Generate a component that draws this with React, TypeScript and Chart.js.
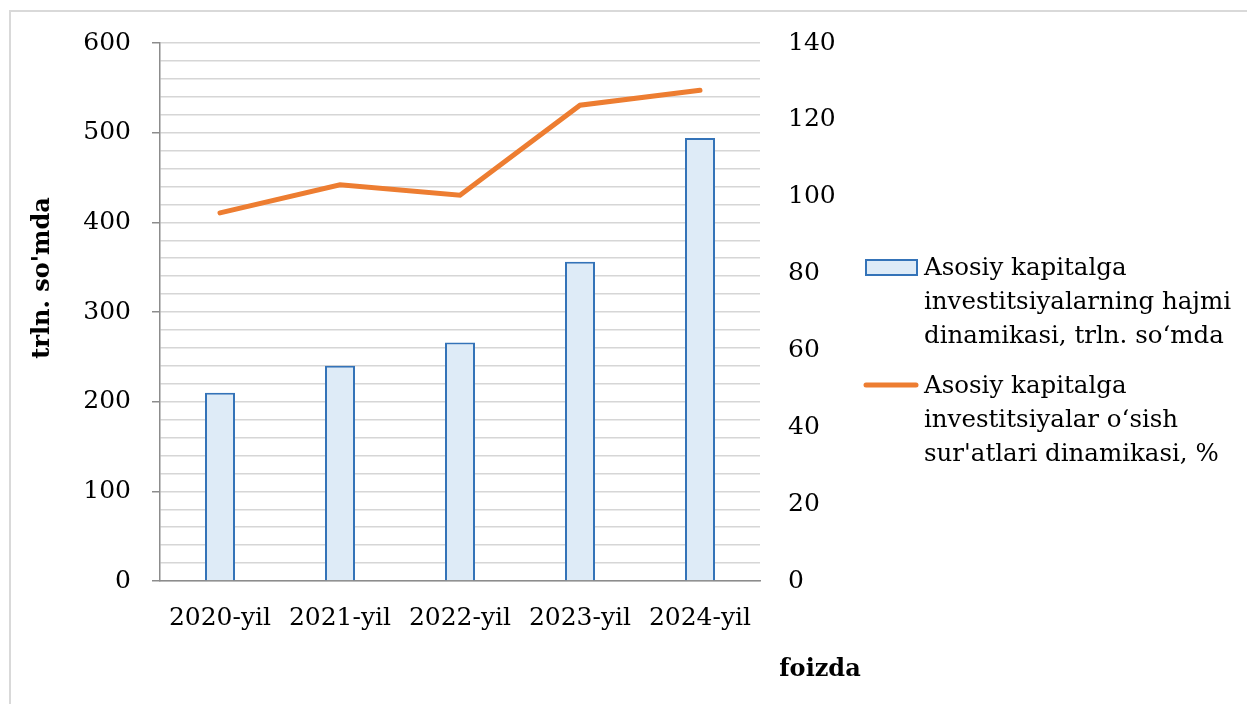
import React, { useEffect, useRef } from "react";
import { Chart, registerables } from "chart.js";

Chart.register(...registerables);

const categories = ["2020-yil", "2021-yil", "2022-yil", "2023-yil", "2024-yil"];
const volumeValues = [210, 240, 266, 356, 494];
const growthValues = [95.8, 103.1, 100.4, 123.8, 127.7];
const volumeLabel = ["Asosiy kapitalga", "investitsiyalarning hajmi", "dinamikasi, trln. so‘mda"];
const growthLabel = ["Asosiy kapitalga", "investitsiyalar o‘sish", "sur'atlari dinamikasi, %"];
const leftTitle = "trln. so'mda";
const rightTitle = "foizda";

const FONT = "'DejaVu Serif', serif";
const BAR_FILL = "#DEEBF7";
const BAR_BORDER = "#3473B8";
const LINE_COLOR = "#ED7D31";

const overlayPlugin = {
  id: "overlay",
  afterDraw(chart: any) {
    const ctx = chart.ctx;
    ctx.save();
    ctx.fillStyle = "#000";
    // left axis title
    ctx.font = `bold 24px ${FONT}`;
    ctx.textAlign = "center";
    ctx.textBaseline = "middle";
    ctx.save();
    ctx.translate(43, 278);
    ctx.rotate(-Math.PI / 2);
    ctx.fillText(leftTitle, 0, 0);
    ctx.restore();
    // right title
    ctx.fillText(rightTitle, 820, 670);

    // legend
    ctx.font = `24.5px ${FONT}`;
    ctx.textAlign = "left";
    ctx.textBaseline = "middle";
    const textX = 924;
    const lh = 34;
    // bar swatch
    ctx.fillStyle = BAR_FILL;
    ctx.fillRect(866, 260, 51, 15);
    ctx.strokeStyle = BAR_BORDER;
    ctx.lineWidth = 2;
    ctx.strokeRect(866, 260, 51, 15);
    ctx.fillStyle = "#000";
    volumeLabel.forEach((t, i) => ctx.fillText(t, textX, 269 + i * lh));
    // line swatch
    ctx.strokeStyle = LINE_COLOR;
    ctx.lineWidth = 5;
    ctx.lineCap = "round";
    ctx.beginPath();
    ctx.moveTo(866, 385);
    ctx.lineTo(916, 385);
    ctx.stroke();
    growthLabel.forEach((t, i) => ctx.fillText(t, textX, 387 + i * lh));
    ctx.restore();
  },
};

export default function App() {
  const ref = useRef<HTMLCanvasElement>(null);
  useEffect(() => {
    if (!ref.current) return;
    const chart = new Chart(ref.current, {
      data: {
        labels: categories,
        datasets: [
          {
            type: "line",
            label: growthLabel.join(" "),
            data: growthValues,
            yAxisID: "y1",
            borderColor: LINE_COLOR,
            borderWidth: 5,
            borderCapStyle: "round",
            pointRadius: 0,
            tension: 0,
            order: 0,
          },
          {
            type: "bar",
            label: volumeLabel.join(" "),
            data: volumeValues,
            yAxisID: "y",
            backgroundColor: BAR_FILL,
            borderColor: BAR_BORDER,
            borderWidth: 2,
            barPercentage: 0.25,
            categoryPercentage: 1,
            order: 1,
          },
        ],
      } as any,
      options: {
        animation: false,
        responsive: false,
        maintainAspectRatio: false,
        layout: { padding: { top: 42, left: 0, right: 0, bottom: 0 } },
        plugins: { legend: { display: false }, tooltip: { enabled: false } },
        scales: {
          x: {
            afterFit: (s: any) => { s.height = 123; },
            grid: { display: false, drawTicks: false },
            border: { display: true, color: "#8C8C8C", width: 1.5 },
            ticks: { padding: 22, color: "#000", font: { family: FONT, size: 25 } },
          },
          y: {
            position: "left",
            min: 0,
            max: 600,
            afterFit: (s: any) => { s.width = 160; },
            ticks: {
              stepSize: 20,
              padding: 21,
              color: "#000",
              font: { family: FONT, size: 25 },
              callback: (v: any) => (Number(v) % 100 === 0 ? String(v) : ""),
              autoSkip: false,
            },
            grid: {
              color: "#D6D6D6",
              lineWidth: 1.5,
              tickLength: 8,
              tickColor: (c: any) => (c.tick && c.tick.value % 100 === 0 ? "#8C8C8C" : "rgba(0,0,0,0)"),
              tickWidth: 1.5,
            },
            border: { display: true, color: "#8C8C8C", width: 1.5 },
          },
          y1: {
            position: "right",
            min: 0,
            max: 140,
            afterFit: (s: any) => { s.width = 487; },
            ticks: { stepSize: 20, padding: 28, color: "#000", font: { family: FONT, size: 25 } },
            grid: { display: false, drawTicks: false },
            border: { display: false },
          },
        },
      } as any,
      plugins: [overlayPlugin],
    });
    return () => chart.destroy();
  }, []);
  return (
    <div style={{ position: "fixed", left: 0, top: 0, width: 1247, height: 704, background: "#fff", overflow: "hidden" }}>
      <div style={{ position: "absolute", left: 9, top: 10, width: 2000, height: 2000, borderLeft: "2px solid #D9D9D9", borderTop: "2px solid #D9D9D9" }} />
      <canvas ref={ref} width={1247} height={704} style={{ position: "absolute", left: 0, top: 0 }} />
    </div>
  );
}
